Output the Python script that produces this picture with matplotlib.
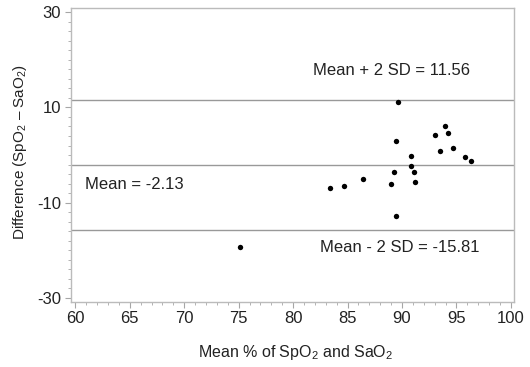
import matplotlib
matplotlib.use("Agg")
import matplotlib.pyplot as plt
from matplotlib.ticker import MultipleLocator

plt.rcParams['font.family'] = ['Liberation Sans', 'DejaVu Sans']
plt.rcParams['mathtext.fontset'] = 'custom'
plt.rcParams['mathtext.rm'] = 'Liberation Sans'
plt.rcParams['mathtext.it'] = 'Liberation Sans:italic'
plt.rcParams['axes.unicode_minus'] = False

mean_pct = [89.61, 89.48, 93.06, 93.97, 94.25, 93.46, 94.68, 95.78, 96.33, 90.85,
            90.80, 91.13, 91.19, 89.24, 88.96, 86.42, 84.65, 83.42, 89.48, 75.14]
difference = [11.2, 3.02, 4.28, 6.04, 4.57, 0.92, 1.55, -0.34, -1.24, -0.19,
              -2.28, -3.61, -5.58, -3.48, -6.06, -5.01, -6.48, -6.96, -12.83, -19.41]
mean_diff = -2.13
upper = 11.56
lower = -15.81

W, H = 530, 367
fig = plt.figure(figsize=(5.3, 3.67), dpi=100)
ax = fig.add_axes([0.134, 0.178, 0.836, 0.799])

gray = '#a6a6a6'
tc = '#222222'
for v in (upper, mean_diff, lower):
    ax.axhline(v, color='#999999', lw=1.0, zorder=1)

ax.scatter(mean_pct, difference, s=15, color='black', zorder=3, linewidths=0)

ax.set_xlim(59.6, 100.3)
ax.set_ylim(-30.8, 30.8)
ax.set_xticks([60, 65, 70, 75, 80, 85, 90, 95, 100])
ax.set_yticks([-30, -10, 10, 30])
ax.xaxis.set_minor_locator(MultipleLocator(1))
ax.yaxis.set_minor_locator(MultipleLocator(2))
ax.tick_params(which='major', direction='out', length=4, color=gray, labelsize=12,
               labelcolor=tc, pad=3)
ax.tick_params(which='minor', direction='out', length=2, color=gray)
for s in ax.spines.values():
    s.set_color('#bbbbbb')
    s.set_linewidth(1.0)

ax.text(81.8, 17.8, 'Mean + 2 SD = 11.56', fontsize=12, va='center', ha='left', color=tc)
ax.text(60.9, -6.27, 'Mean = -2.13', fontsize=12, va='center', ha='left', color=tc)
ax.text(82.5, -19.5, 'Mean - 2 SD = -15.81', fontsize=12, va='center', ha='left', color=tc)

fig.text(296 / W, 1 - 352 / H, r'Mean % of SpO$_2$ and SaO$_2$', fontsize=11.5,
         ha='center', va='center', color=tc)
fig.text(20 / W, 1 - 152 / H, 'Difference (SpO$_2$ – SaO$_2$)', fontsize=11,
         ha='center', va='center', rotation=90, color=tc)

fig.savefig('out.png', dpi=100)
